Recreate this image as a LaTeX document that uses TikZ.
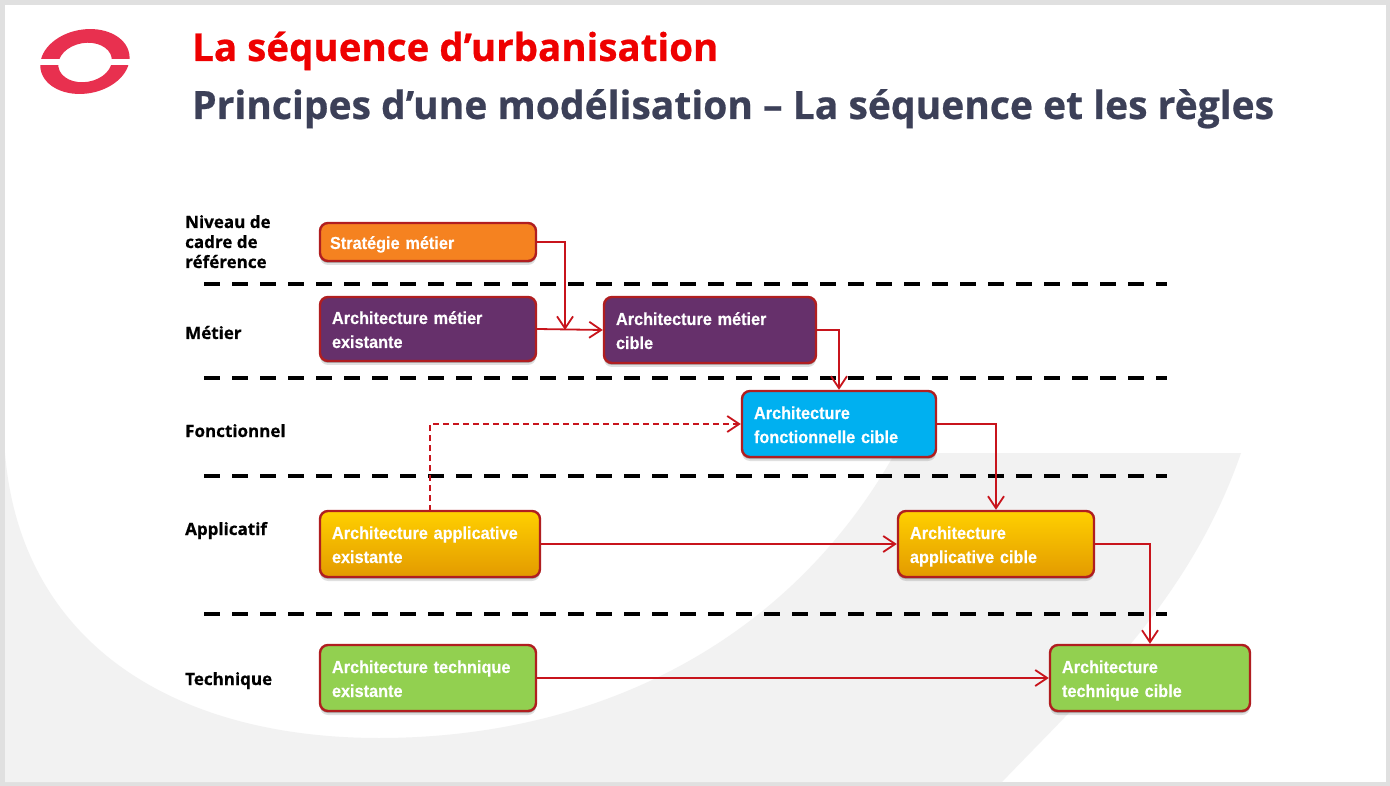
\documentclass[tikz,border=0pt]{standalone}
\usepackage{fontspec}
\setmainfont{Liberation Sans}[FakeStretch=0.935,BoldFeatures={FakeBold=0.3}]
\newfontfamily\headfont{Open Sans}[BoldFeatures={FakeBold=0.6}]
\usetikzlibrary{arrows.meta,shadows}
\definecolor{framegray}{HTML}{E0E0E0}
\definecolor{swoosh}{HTML}{F2F2F2}
\definecolor{linkred}{HTML}{C8141C}
\definecolor{boxedge}{HTML}{B01E20}
\definecolor{titlered}{HTML}{EE0000}
\definecolor{titleslate}{HTML}{3C4058}
\definecolor{logored}{HTML}{E8304F}
\definecolor{orangebox}{HTML}{F58220}
\definecolor{purplebox}{HTML}{66306B}
\definecolor{bluebox}{HTML}{00B0F0}
\definecolor{greenbox}{HTML}{92D050}
\definecolor{yellowtop}{HTML}{FFD000}
\definecolor{yellowbot}{HTML}{E39A00}
\newcommand{\linebx}{\rule[-5pt]{0pt}{24pt}}
\tikzset{
  boxbase/.style={draw=boxedge,line width=2.4pt,rounded corners=8pt,align=left,text=white,
    inner xsep=0pt,inner ysep=0pt,
    font=\fontsize{17.4}{24}\selectfont\bfseries,
    execute at begin node=\linebx,execute at end node=\linebx,
    drop shadow={shadow xshift=0pt,shadow yshift=-2pt,opacity=.22,fill=black},
    drop shadow={shadow xshift=0pt,shadow yshift=-4pt,opacity=.12,fill=black}},
  orangefill/.style={boxbase,fill=orangebox},
  purplefill/.style={boxbase,fill=purplebox},
  bluefill/.style={boxbase,fill=bluebox},
  yellowfill/.style={boxbase,top color=yellowtop,bottom color=yellowbot},
  greenfill/.style={boxbase,fill=greenbox},
  rowlabel/.style={anchor=base west,align=left,inner sep=0pt,text=black,
    font=\headfont\fontsize{17}{20}\selectfont\bfseries},
  link/.style={draw=linkred,line width=1.8pt,-{Straight Barb[length=12pt,width=16pt,line width=1.8pt]}},
  sepline/.style={draw=black,line width=3.6pt,dash pattern=on 16pt off 12pt},
  titletext/.style={anchor=base west,inner sep=0pt}
}
\begin{document}
\begin{tikzpicture}[x=1pt,y=-1pt]
\useasboundingbox (0,0) rectangle (1390,786);
% page
\fill[framegray] (0,0) rectangle (1390,786);
\fill[white] (5,5) rectangle (1386,782);
\fill[swoosh] (5,453) .. controls (20,640) and (170,738) .. (379,738)
  .. controls (600,738) and (790,640) .. (895,453)
  -- (1241,453)
  .. controls (1190,600) and (1090,690) .. (1002,782)
  -- (5,782) -- cycle;
% logo
\fill[logored,even odd rule,rotate around={10:(85,62)}] (85,61.5) ellipse [x radius=45pt,y radius=32pt]
  (85,62.5) ellipse [x radius=27pt,y radius=19.5pt];
\fill[white] (30,59.5) rectangle (140,65.5);
% titles
\node[titletext,text=titlered,font=\headfont\fontsize{38.5}{42}\selectfont\bfseries] (title) at (192,61) {La séquence d’urbanisation};
\node[titletext,text=titleslate,font=\headfont\fontsize{39}{42}\selectfont\bfseries] (subtitle) at (192,119) {Principes d’une modélisation – La séquence et les règles};
% separators
\coordinate (s1a) at (204,284); \coordinate (s1b) at (1167,284);
\coordinate (s2a) at (204,378); \coordinate (s2b) at (1167,378);
\coordinate (s3a) at (204,476); \coordinate (s3b) at (1167,476);
\coordinate (s4a) at (204,614); \coordinate (s4b) at (1167,614);
\draw[sepline] (s1a) -- (s1b);
\draw[sepline] (s2a) -- (s2b);
\draw[sepline] (s3a) -- (s3b);
\draw[sepline] (s4a) -- (s4b);
% row labels
\node[rowlabel] (lniveau) at (185,268) {Niveau de\\cadre de\\référence};
\node[rowlabel] (lmetier) at (185,339) {Métier};
\node[rowlabel] (lfonc) at (185,437) {Fonctionnel};
\node[rowlabel] (lappl) at (185,535) {Applicatif};
\node[rowlabel] (ltech) at (185,685) {Technique};
% boxes
\node[orangefill,minimum width=216pt,minimum height=38pt,text width=196pt] (strat) at (428,242) {Stratégie métier};
\node[purplefill,minimum width=216pt,minimum height=64pt,text width=192pt] (ame) at (428,329) {Architecture métier\\existante};
\node[purplefill,minimum width=212pt,minimum height=66pt,text width=188pt] (amc) at (710,330) {Architecture métier\\cible};
\node[bluefill,minimum width=194pt,minimum height=66pt,text width=170pt] (afc) at (839,424) {Architecture\\fonctionnelle cible};
\node[yellowfill,minimum width=220pt,minimum height=66pt,text width=196pt] (aae) at (430,544) {Architecture applicative\\existante};
\node[yellowfill,minimum width=196pt,minimum height=66pt,text width=172pt] (aac) at (996,544) {Architecture\\applicative cible};
\node[greenfill,minimum width=216pt,minimum height=66pt,text width=192pt] (ate) at (428,678) {Architecture technique\\existante};
\node[greenfill,minimum width=200pt,minimum height=66pt,text width=176pt] (atc) at (1150,678) {Architecture\\technique cible};
% connectors
\coordinate (mergept) at (565,330);
\coordinate (dashstart) at (430,511);
\draw[link] (strat.east) -| (mergept);
\draw[link] (ame.east) -- (amc.west);
\draw[link] (amc.east) -| (afc.north);
\draw[link] (afc.east) -| (aac.north);
\draw[link,dash pattern=on 6pt off 4pt] (dashstart) |- (afc.west);
\draw[link] (aae.east) -- (aac.west);
\draw[link] (aac.east) -| (atc.north);
\draw[link] (ate.east) -- (atc.west);
\end{tikzpicture}
\end{document}
